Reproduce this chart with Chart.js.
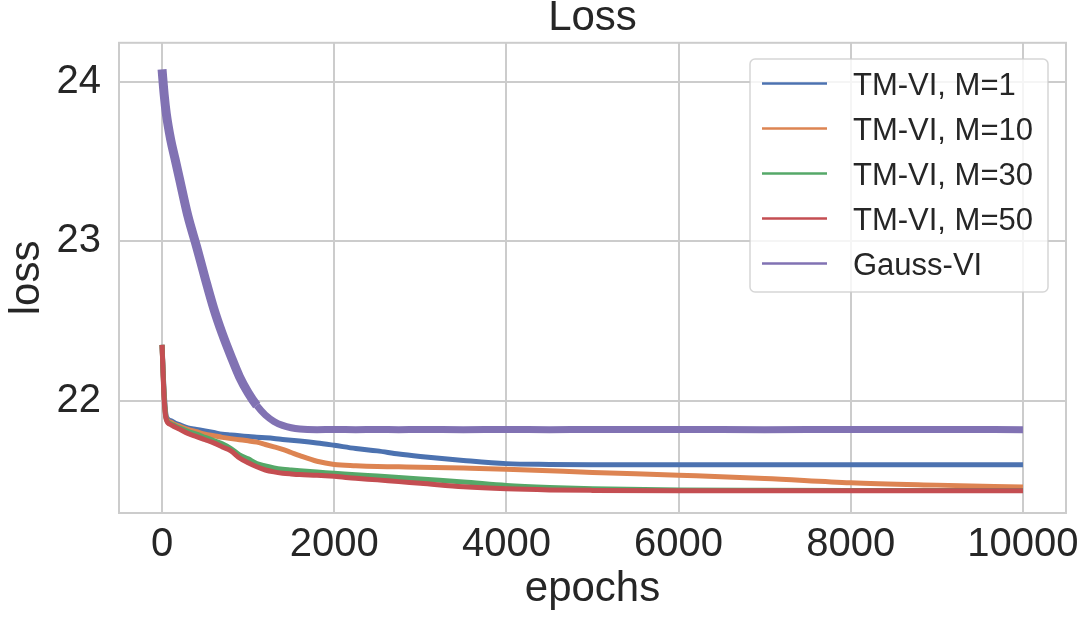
<!DOCTYPE html>
<html>
<head>
<meta charset="utf-8">
<title>Loss</title>
<script src="https://cdn.jsdelivr.net/npm/chart.js@4.4.1/dist/chart.umd.min.js"></script>
<style>
  html, body { margin: 0; padding: 0; background: #fff; }
  #wrap { width: 1086px; height: 620px; }
</style>
</head>
<body>
<div id="wrap"><canvas id="loss-chart" width="1086" height="620"></canvas></div>
<script>
// values
const epochs = [0, 25, 50, 100, 150, 200, 300, 400, 500, 600, 700, 800, 900, 1000, 1100, 1200, 1300, 1400, 1500, 1600,
  1800, 2000, 2250, 2500, 2750, 3000, 3500, 4000, 4500, 5000, 6000, 7000, 8000, 9000, 10000];

const lossM1 = [22.35, 22.05, 21.90, 21.875, 21.86, 21.85, 21.83, 21.82, 21.81, 21.80, 21.79, 21.785, 21.78, 21.775, 21.77,
  21.767, 21.763, 21.757, 21.752, 21.747, 21.735, 21.72, 21.70, 21.685, 21.665, 21.65, 21.625, 21.605, 21.60, 21.598,
  21.598, 21.598, 21.598, 21.598, 21.598];
const lossM10 = [22.35, 22.03, 21.89, 21.865, 21.85, 21.84, 21.82, 21.805, 21.79, 21.78, 21.77, 21.762, 21.755, 21.748, 21.74,
  21.725, 21.71, 21.695, 21.675, 21.655, 21.62, 21.60, 21.592, 21.587, 21.585, 21.583, 21.577, 21.57, 21.56, 21.55,
  21.532, 21.512, 21.485, 21.47, 21.458];
const lossM30 = [22.35, 22.02, 21.885, 21.855, 21.843, 21.83, 21.808, 21.79, 21.77, 21.75, 21.73, 21.70, 21.66, 21.635, 21.605,
  21.59, 21.578, 21.57, 21.565, 21.56, 21.552, 21.545, 21.535, 21.527, 21.518, 21.508, 21.49, 21.468, 21.455, 21.447,
  21.44, 21.438, 21.437, 21.437, 21.437];
const lossM50 = [22.35, 22.0, 21.88, 21.85, 21.835, 21.822, 21.795, 21.775, 21.755, 21.735, 21.71, 21.685, 21.64, 21.61, 21.585,
  21.565, 21.553, 21.545, 21.54, 21.536, 21.532, 21.525, 21.513, 21.503, 21.492, 21.482, 21.46, 21.447, 21.44, 21.437,
  21.435, 21.435, 21.435, 21.435, 21.435];
const lossGauss = [24.08, 23.92, 23.80, 23.64, 23.52, 23.40, 23.16, 22.97, 22.77, 22.58, 22.42, 22.28, 22.15, 22.05, 21.97,
  21.91, 21.87, 21.845, 21.83, 21.822, 21.818, 21.82, 21.818, 21.82, 21.818, 21.82, 21.818, 21.82, 21.818, 21.82,
  21.82, 21.818, 21.82, 21.82, 21.818];

const seriesLabels = ['TM-VI, M=1', 'TM-VI, M=10', 'TM-VI, M=30', 'TM-VI, M=50', 'Gauss-VI'];
const seriesValues = [lossM1, lossM10, lossM30, lossM50, lossGauss];
const seriesColors = ['#4c72b0', '#dd8452', '#55a868', '#c44e52', '#8172b3'];

const xTicks = [0, 2000, 4000, 6000, 8000, 10000];
const yTicks = [22, 23, 24];

const FONT = "'Liberation Sans', Arial, sans-serif";
const TEXT = '#262626';
const GRID = '#cccccc';

// axes frame on all four sides, like the seaborn whitegrid spines
const framePlugin = {
  id: 'frame',
  afterDatasetsDraw(chart) {
    const { ctx, chartArea: a } = chart;
    ctx.save();
    ctx.strokeStyle = GRID;
    ctx.lineWidth = 2;
    ctx.strokeRect(a.left, a.top, a.right - a.left, a.bottom - a.top);
    ctx.restore();
  }
};

// boxed legend in the upper right corner of the plot
const boxLegend = {
  id: 'boxLegend',
  afterDraw(chart) {
    const ctx = chart.ctx;
    const left = 750, top = 59, w = 298, h = 233;
    ctx.save();
    ctx.beginPath();
    ctx.roundRect(left, top, w, h, 5);
    ctx.fillStyle = 'rgba(255,255,255,0.8)';
    ctx.fill();
    ctx.strokeStyle = 'rgba(204,204,204,0.8)';
    ctx.lineWidth = 1.5;
    ctx.stroke();

    ctx.font = '31px ' + FONT;
    ctx.textAlign = 'left';
    ctx.textBaseline = 'alphabetic';
    chart.data.datasets.forEach((ds, i) => {
      const y = 83.5 + i * 45;
      ctx.strokeStyle = ds.borderColor;
      ctx.lineWidth = 2.5;
      ctx.beginPath();
      ctx.moveTo(762, y);
      ctx.lineTo(827, y);
      ctx.stroke();
      ctx.fillStyle = TEXT;
      ctx.fillText(ds.label, 853, y + 11.5);
    });
    ctx.restore();
  }
};

const datasets = seriesLabels.map((label, i) => ({
  label: label,
  data: epochs.map((e, j) => ({ x: e, y: seriesValues[i][j] })),
  borderColor: seriesColors[i],
  backgroundColor: seriesColors[i],
  borderWidth: i === 4 ? 7 : 5,
  pointRadius: 0,
  cubicInterpolationMode: 'monotone',
  order: 5 - i,
  segment: i === 4 ? { borderWidth: c => (c.p0.parsed.x < 1100 ? 9 : 7) } : undefined
}));

new Chart(document.getElementById('loss-chart'), {
  type: 'line',
  data: { datasets: datasets },
  plugins: [framePlugin, boxLegend],
  options: {
    responsive: false,
    animation: false,
    layout: { padding: { left: 0, right: 20, top: 0, bottom: 0 } },
    plugins: {
      legend: { display: false },
      tooltip: { enabled: false },
      title: {
        display: true,
        text: 'Loss',
        fullSize: false,
        color: TEXT,
        font: { family: FONT, size: 42, weight: 'normal', lineHeight: 0.9 },
        padding: { top: 0, bottom: 5 }
      }
    },
    scales: {
      x: {
        type: 'linear',
        min: -500,
        max: 10500,
        afterBuildTicks: s => { s.ticks = xTicks.map(v => ({ value: v })); },
        afterFit: s => { s.height = 107; s.paddingLeft = 0; s.paddingRight = 0; },
        ticks: {
          color: TEXT,
          padding: 8,
          font: { family: FONT, size: 40 },
          callback: v => String(v)
        },
        grid: { color: GRID, lineWidth: 2, drawTicks: false },
        border: { display: false },
        title: {
          display: true,
          text: 'epochs',
          color: TEXT,
          font: { family: FONT, size: 42, lineHeight: 1.2 },
          padding: { top: 0, bottom: 5 }
        }
      },
      y: {
        type: 'linear',
        min: 21.295,
        max: 24.247,
        afterBuildTicks: s => { s.ticks = yTicks.map(v => ({ value: v })); },
        afterFit: s => { s.width = 119; s.paddingTop = 0; s.paddingBottom = 0; },
        ticks: {
          color: TEXT,
          padding: 18,
          font: { family: FONT, size: 40 },
          callback: v => String(v)
        },
        grid: { color: GRID, lineWidth: 2, drawTicks: false },
        border: { display: false },
        title: {
          display: true,
          text: 'loss',
          color: TEXT,
          font: { family: FONT, size: 42, lineHeight: 1.2 },
          padding: { top: 2, bottom: 0 }
        }
      }
    }
  }
});
</script>
</body>
</html>
